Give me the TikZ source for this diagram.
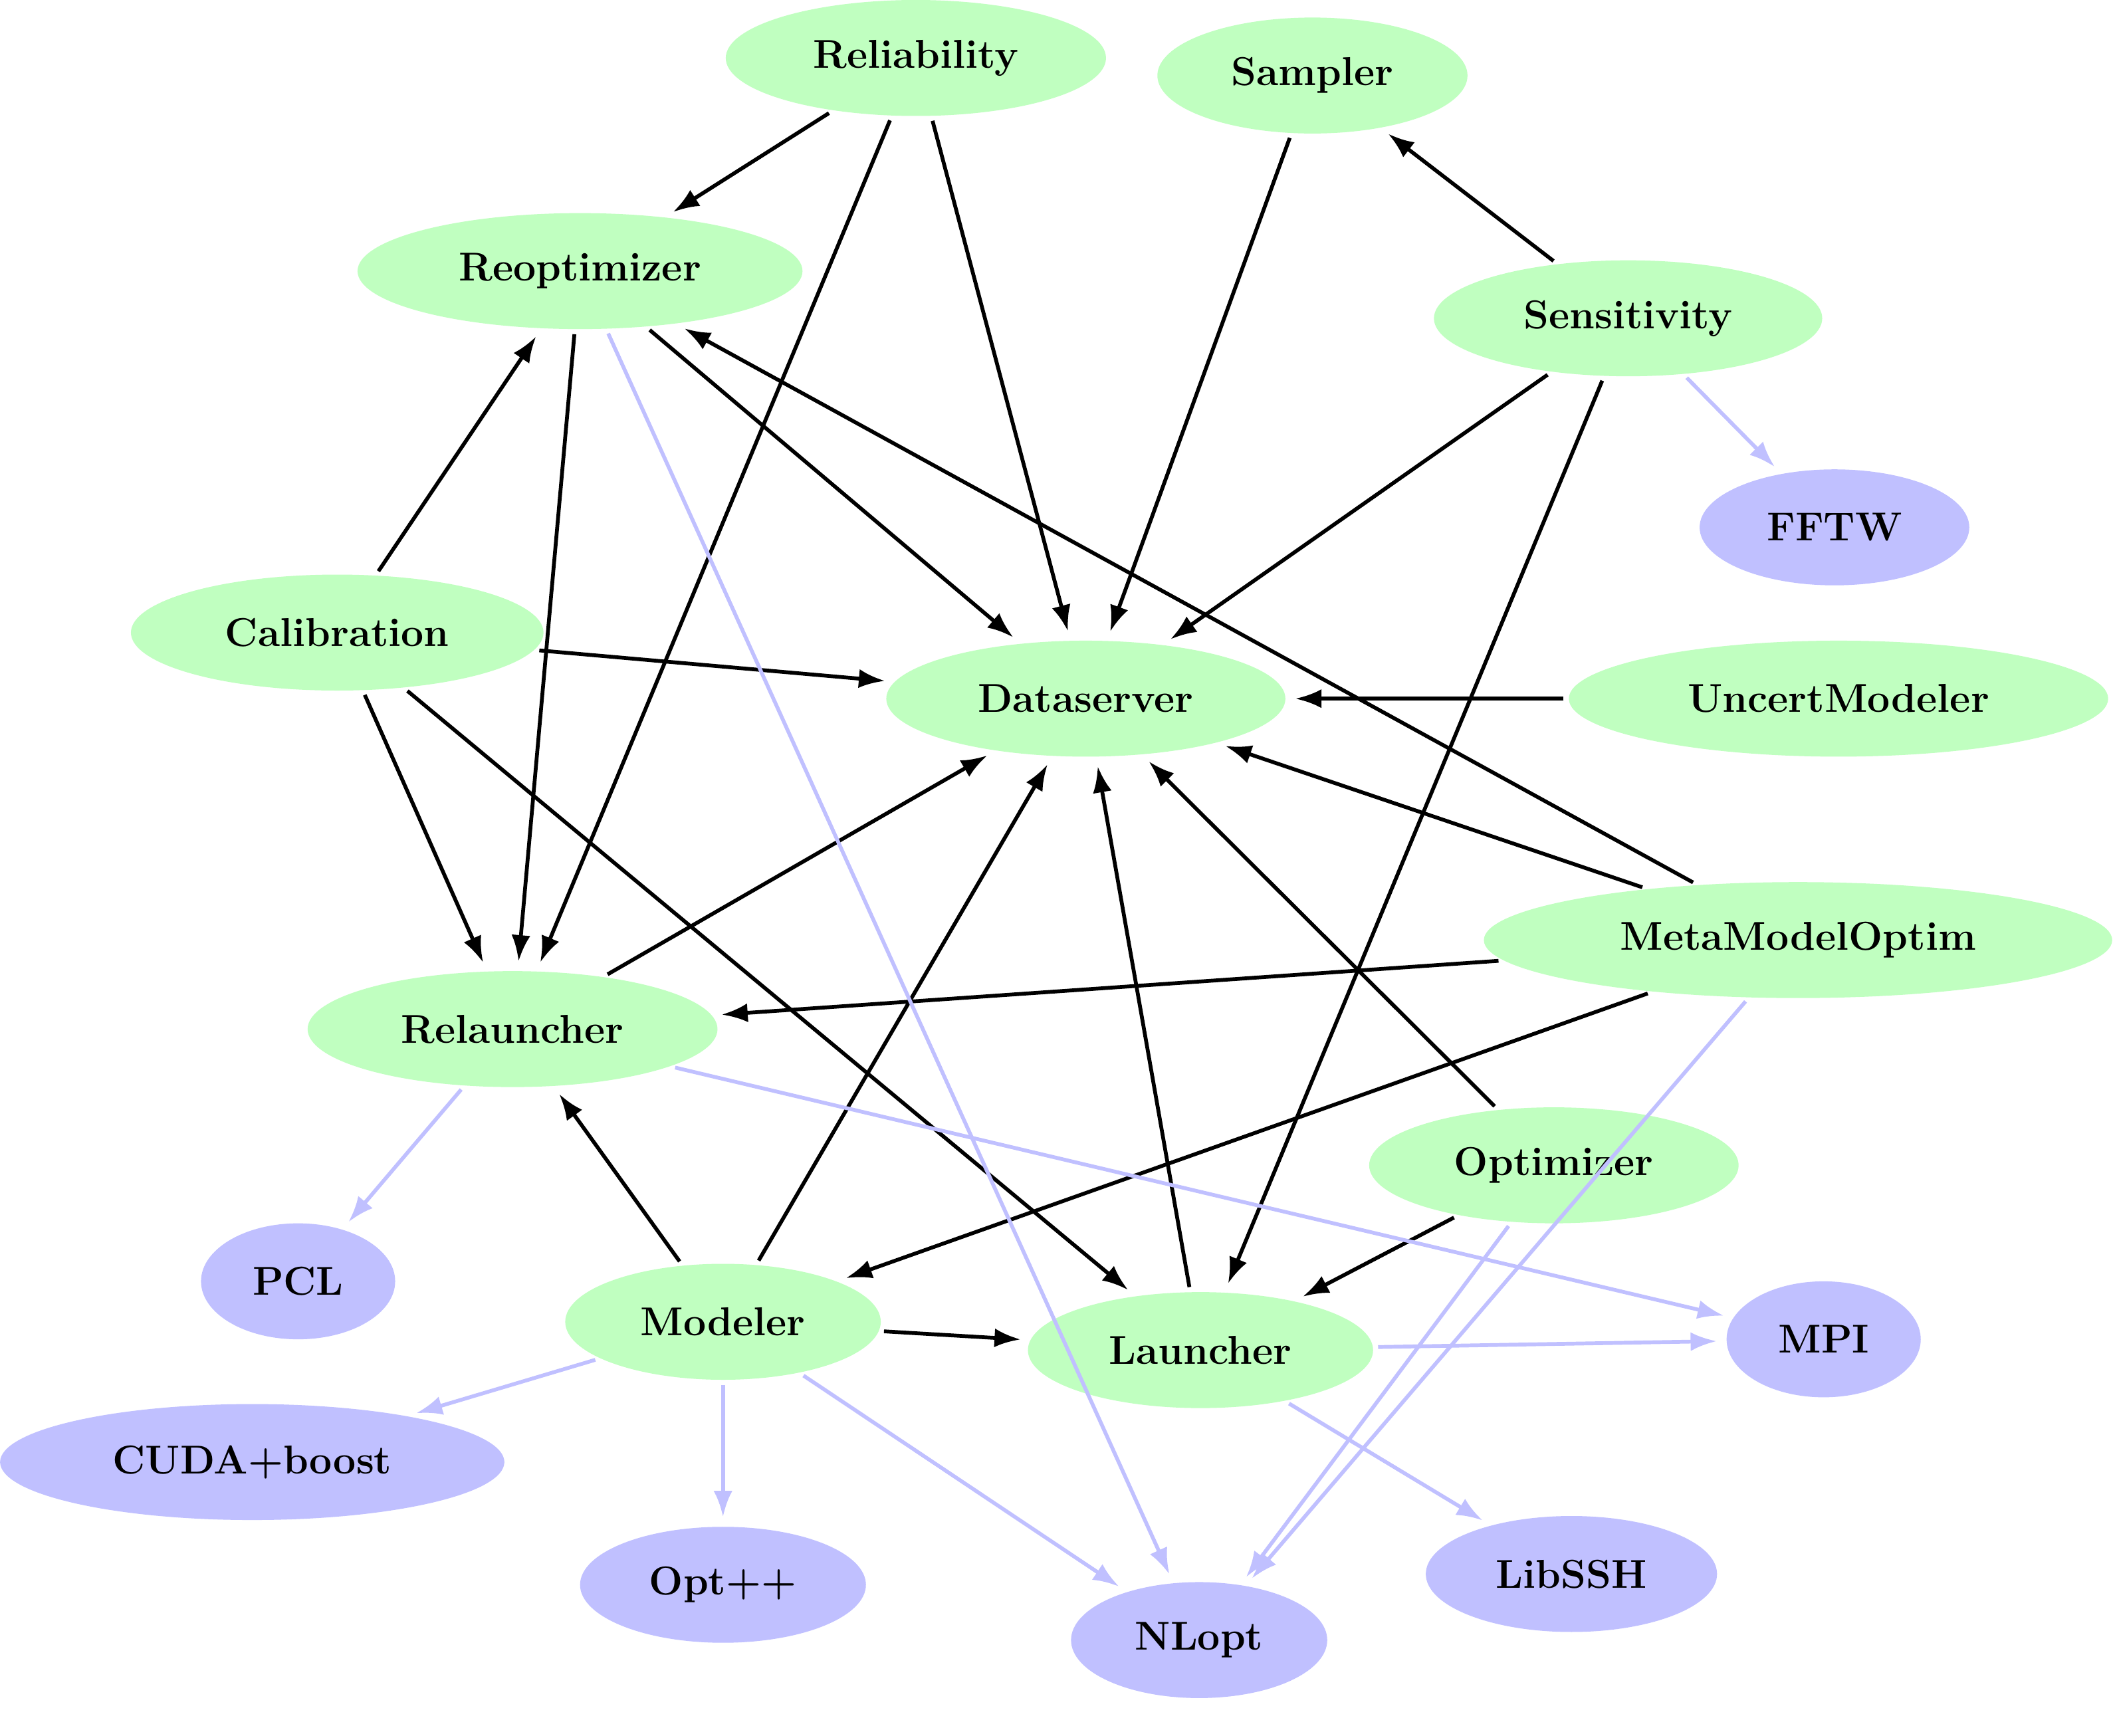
\documentclass[tikz,border=0pt]{standalone}
\usetikzlibrary{shapes.geometric,arrows.meta}
\definecolor{gr}{HTML}{C0FFC0}
\definecolor{bl}{HTML}{C0C0FF}
\begin{document}
\begin{tikzpicture}[x=0.02cm,y=-0.02cm,
 n/.style={ellipse,fill=gr,inner sep=0pt,minimum height=1.72cm,font=\fontsize{17}{20}\selectfont\bfseries},
 b/.style={n,fill=bl},
 e/.style={-{Latex[length=11pt,width=8pt]},line width=1.6pt,black,shorten >=4pt,shorten <=2pt},
 f/.style={e,bl}]
\useasboundingbox (0,0) rectangle (1568,1287);
\newcommand\nd[5]{\node[#1,minimum width=#5*0.04cm] (#2) at (#3) {#4};}
\nd{n}{rel}{679,43}{Reliability}{141}
\nd{n}{sam}{973,56}{Sampler}{115}
\nd{n}{reo}{430,201}{Reoptimizer}{165}
\nd{n}{sen}{1207,236}{Sensitivity}{144}
\nd{b}{fft}{1360,391}{FFTW}{100}
\nd{n}{cal}{250,469}{Calibration}{153}
\nd{n}{dat}{805,518}{Dataserver}{148}
\nd{n}{unc}{1363,518}{UncertModeler}{200}
\nd{n}{met}{1333,697}{MetaModelOptim}{233}
\nd{n}{rla}{380,763}{Relauncher}{152}
\nd{n}{opt}{1152,864}{Optimizer}{137}
\nd{b}{pcl}{221,950}{PCL}{72}
\nd{n}{mod}{536,980}{Modeler}{117}
\nd{n}{lau}{890,1001}{Launcher}{128}
\nd{b}{mpi}{1352,993}{MPI}{72}
\nd{b}{cud}{187,1084}{CUDA+boost}{187}
\nd{b}{opp}{536,1175}{Opt++}{106}
\nd{b}{ssh}{1165,1167}{LibSSH}{108}
\nd{b}{nlo}{889,1216}{NLopt}{95}
\foreach \a/\b in {rel/reo,rel/rla,rel/dat,sam/dat,sen/sam,sen/dat,sen/lau,
 reo/rla,reo/dat,met/reo,met/dat,met/rla,met/mod,cal/reo,cal/dat,cal/rla,cal/lau,
 unc/dat,rla/dat,mod/rla,mod/dat,mod/lau,lau/dat,opt/dat,opt/lau}
 \draw[e] (\a) -- (\b);
\foreach \a/\b in {sen/fft,reo/nlo,met/nlo,rla/pcl,rla/mpi,mod/cud,mod/opp,mod/nlo,lau/mpi,lau/ssh,opt/nlo}
 \draw[f] (\a) -- (\b);
\end{tikzpicture}
\end{document}
